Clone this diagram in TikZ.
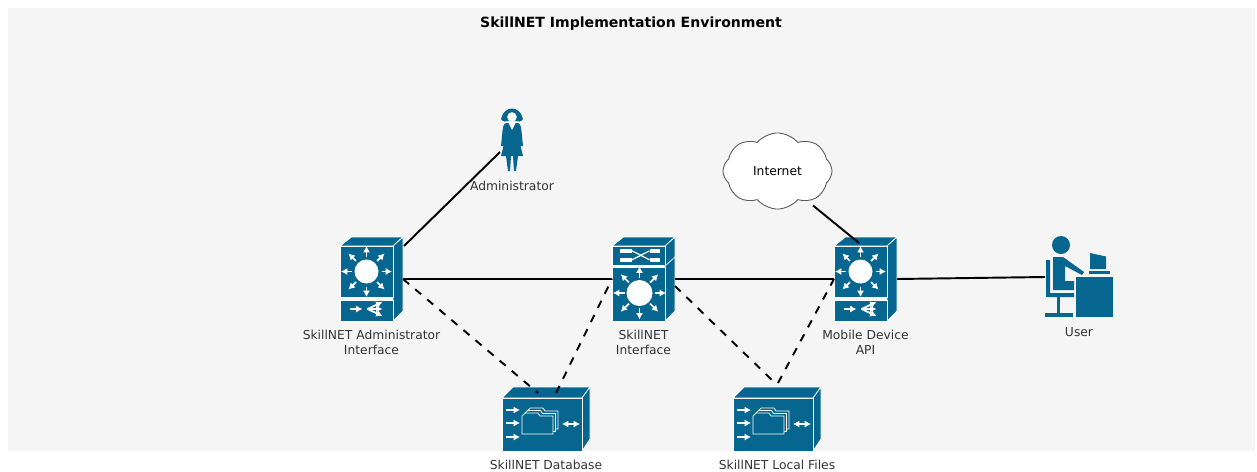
\documentclass[tikz,border=0pt]{standalone}
\usepackage{fontspec}
\setmainfont{DejaVu Sans}
\usetikzlibrary{arrows.meta,positioning,shapes.symbols}
\definecolor{iconblue}{HTML}{07668F}
\definecolor{panelgray}{HTML}{F5F5F5}
\tikzset{
	face/.style={fill=iconblue, draw=white, line width=0.4pt},
	glyph/.style={draw=white, line width=1pt, -{Latex[length=3.6pt,width=4pt]}},
	devbox/.style 2 args={minimum width=#1*0.02cm, minimum height=#2*0.02cm, inner sep=0pt, outer sep=0pt},
	caption/.style={align=center, font=\fontsize{7}{8.6}\selectfont, text=black!80, inner sep=0pt},
	link/.style={draw=black, line width=1.1pt},
	dashlink/.style={link, dash pattern=on 4.5pt off 4.5pt},
	layerthree/.pic={
		\path[face] (-31.5,-33) -- (-20,-42) -- (31.5,-42) -- (21.5,-33) -- cycle;
		\path[face] (21.5,-33) -- (31.5,-42) -- (31.5,32) -- (21.5,42) -- cycle;
		\path[face] (-31.5,-33) rectangle (21.5,18);
		\path[face] (-31.5,21) rectangle (21.5,42);
		\fill[white] (-5,-7.5) circle (12);
		\foreach \a in {0,45,...,315}
			\draw[glyph] (-5,-7.5) ++(\a:15) -- ++(\a:10.5);
		\draw[glyph] (-22,30) -- (-9,30);
		\draw[glyph] (-4,30) -- (11,23);
		\draw[glyph] (-4,30) -- (11,30);
		\draw[glyph] (-4,30) -- (11,37);
	},
	crossthree/.pic={
		\path[face] (-31.5,-33) -- (-20,-42) -- (31.5,-42) -- (21.5,-33) -- cycle;
		\path[face] (21.5,-33) -- (31.5,-42) -- (31.5,32) -- (21.5,42) -- cycle;
		\draw[white, line width=0.4pt] (21.5,-13) -- (31.5,-22);
		\path[face] (-31.5,-33) rectangle (21.5,-14);
		\path[face] (-31.5,-12) rectangle (21.5,42);
		\fill[white] (-23.5,-30) rectangle (-11.5,-26.5);
		\fill[white] (-23.5,-21) rectangle (-11.5,-17.5);
		\fill[white] (6,-30) rectangle (16,-26.5);
		\fill[white] (6,-21) rectangle (16,-17.5);
		\draw[white, line width=0.7pt] (-11.5,-28.2) -- (6,-19.2);
		\draw[white, line width=0.7pt] (-11.5,-19.2) -- (6,-28.2);
		\fill[white] (-4,14) circle (13);
		\foreach \a in {0,45,...,315}
			\draw[glyph] (-4,14) ++(\a:15) -- ++(\a:11.5);
	},
	storebox/.pic={
		\path[face] (-44,-21) -- (-33,-32) -- (44,-32) -- (36,-21) -- cycle;
		\path[face] (36,-21) -- (44,-32) -- (44,20) -- (36,32) -- cycle;
		\path[face] (-44,-21) rectangle (36,32);
		\foreach \y in {-9,4,18}
			\draw[glyph] (-40,\y) -- (-26,\y);
		\foreach \d in {5,2.5,0}
			\draw[face] (-24+\d,15-\d) -- (-24+\d,-3-\d) -- (-21+\d,-6-\d) -- (-8+\d,-6-\d)
				-- (-6+\d,-3-\d) -- (7+\d,-3-\d) -- (7+\d,15-\d) -- cycle;
		\draw[draw=white, line width=1pt, {Latex[length=3.6pt,width=4pt]}-{Latex[length=3.6pt,width=4pt]}] (16,5) -- (34,5);
	},
	womanfig/.pic={
		\fill[iconblue] (-11,-21) .. controls (-8,-35) and (8,-35) .. (11,-21) .. controls (9,-18) and (6,-18) .. (4,-19)
			-- (-4,-19) .. controls (-6,-18) and (-9,-18) .. (-11,-21) -- cycle;
		\fill[white] (0,-23) ellipse (4.8 and 4.8);
		\fill[iconblue] (-6,-17) -- (6,-17) .. controls (9,-16) and (9,-12) .. (9.5,-9) -- (11,6) -- (8.5,6) -- (11,16) -- (-11,16)
			-- (-8.5,6) -- (-11,6) -- (-9.5,-9) .. controls (-9,-12) and (-9,-16) .. (-6,-17) -- cycle;
		\fill[white] (-4,-18) -- (4,-18) -- (0,-10) -- cycle;
		\fill[iconblue] (-6,16) -- (-1,16) -- (-2,31) -- (-4,31) -- cycle;
		\fill[iconblue] (1,16) -- (6,16) -- (4,31) -- (2,31) -- cycle;
	},
	deskfig/.pic={
		\fill[iconblue] (-18,-32) circle (9);
		\fill[iconblue] (-26,-20) -- (-16,-20) -- (5,-5) -- (3,-2) -- (-14,-11) -- (-14,4) -- (-5,4) -- (-5,13) -- (-26,13) -- cycle;
		\fill[iconblue] (-33,-17) -- (-29,-17) -- (-29,16) -- (-5,16) -- (-5,20) -- (-33,20) -- cycle;
		\fill[iconblue] (-22,20) rectangle (-19,36);
		\fill[iconblue] (-34,36) rectangle (-6,40);
		\fill[iconblue] (-3,0) rectangle (34,40);
		\fill[iconblue] (11,-24) -- (27,-20.5) -- (27,-8) -- (11,-8) -- cycle;
		\fill[iconblue] (10,-6) rectangle (31,-3);
	}
}
\begin{document}
\begin{tikzpicture}[x=0.02cm,y=-0.02cm]
	\useasboundingbox (0,0) rectangle (1257,471);
	\fill[panelgray] (8,8) rectangle (1255,451);
	\node (title) at (631,24)	[font=\bfseries\fontsize{8}{10}\selectfont, inner sep=0pt]	{SkillNET Implementation Environment};
	\node (admin) at (371.5,279)	[devbox={63}{84}]	{};
	\node (iface) at (643.5,279)	[devbox={63}{84}]	{};
	\node (mobile) at (865.5,279)	[devbox={63}{84}]	{};
	\node (dbase) at (546,419)	[devbox={88}{64}]	{};
	\node (files) at (777,419)	[devbox={88}{64}]	{};
	\node (woman) at (512,140)	[devbox={26}{64}]	{};
	\node (user) at (1079,277)	[devbox={68}{80}]	{};
	\node (cloud) at (777.5,171)	[cloud, cloud puffs=8, cloud puff arc=100, draw=black!65, fill=white, line width=0.5pt, inner sep=0pt, minimum width=109*0.02cm, minimum height=69*0.02cm, font=\fontsize{7}{8.6}\selectfont]	{Internet};
	\pic at (admin) {layerthree};
	\pic at (iface) {crossthree};
	\pic at (mobile) {layerthree};
	\pic at (dbase) {storebox};
	\pic at (files) {storebox};
	\pic at (woman) {womanfig};
	\pic at (user) {deskfig};
	\node (adminlabel) [caption, below=5pt of admin]	{SkillNET Administrator\\Interface};
	\node (ifacelabel) [caption, below=5pt of iface]	{SkillNET\\Interface};
	\node (mobilelabel) [caption, below=5pt of mobile]	{Mobile Device\\API};
	\node (dbaselabel) [caption, below=5pt of dbase]	{SkillNET Database};
	\node (fileslabel) [caption, below=5pt of files]	{SkillNET Local Files};
	\node (womanlabel) [caption, below=5pt of woman]	{Administrator};
	\node (userlabel) [caption, below=6pt of user]	{User};
	\draw[link] ([shift={(1,9)}]admin.north east) -- ([shift={(1,12)}]woman.west);
	\draw[link] (admin.east) -- (iface.west);
	\draw[link] (iface.east) -- (mobile.west);
	\draw[link] (mobile.east) -- (user.west);
	\draw[link] ([shift={(35.5,-4)}]cloud.south) -- ([shift={(-6.5,6)}]mobile.north);
	\draw[dashlink] (admin.east) -- ([shift={(-8,6)}]dbase.north);
	\draw[dashlink] ([shift={(10,6)}]dbase.north) -- (iface.west);
	\draw[dashlink] ([shift={(0,7)}]iface.east) -- ([shift={(-2,-4)}]files.north);
	\draw[dashlink] ([shift={(1,-4)}]files.north) -- (mobile.west);
\end{tikzpicture}
\end{document}
